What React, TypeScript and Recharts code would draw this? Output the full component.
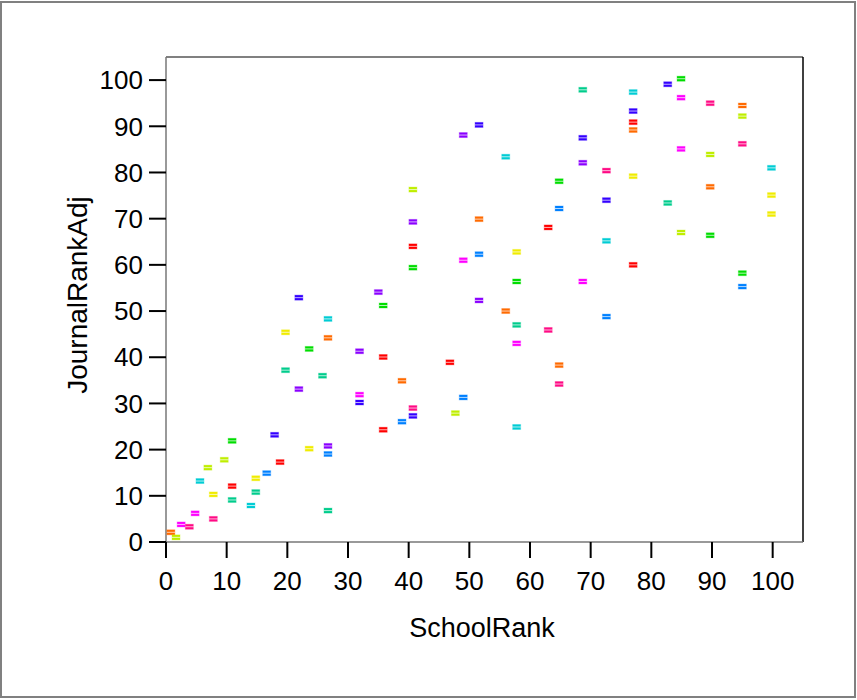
import React from 'react';
import { ScatterChart, Scatter, XAxis, YAxis, ReferenceLine, Label } from 'recharts';

const xTicks = [0, 10, 20, 30, 40, 50, 60, 70, 80, 90, 100];
const yTicks = [0, 10, 20, 30, 40, 50, 60, 70, 80, 90, 100];

const redPts = [
  { x: 10.9, y: 12.1 }, { x: 18.8, y: 17.3 }, { x: 40.7, y: 64.0 }, { x: 63.0, y: 68.1 },
  { x: 35.8, y: 40.05 }, { x: 46.8, y: 38.9 }, { x: 35.8, y: 24.3 }, { x: 77.0, y: 90.9 }, { x: 77.0, y: 60.0 },
];
const orangePts = [
  { x: 0.8, y: 2.1 }, { x: 26.7, y: 44.2 }, { x: 51.6, y: 69.9 }, { x: 56.0, y: 50.0 },
  { x: 38.9, y: 34.9 }, { x: 77.0, y: 89.2 }, { x: 95.0, y: 94.5 }, { x: 89.7, y: 76.9 }, { x: 64.8, y: 38.3 },
];
const yellowPts = [
  { x: 7.8, y: 10.3 }, { x: 14.8, y: 13.8 }, { x: 23.6, y: 20.2 }, { x: 19.7, y: 45.4 },
  { x: 57.8, y: 62.8 }, { x: 77.0, y: 79.2 }, { x: 99.8, y: 75.1 }, { x: 99.8, y: 71.0 },
];
const limePts = [
  { x: 1.65, y: 1.0 }, { x: 6.9, y: 16.1 }, { x: 9.6, y: 17.8 }, { x: 40.7, y: 76.3 },
  { x: 47.7, y: 27.9 }, { x: 95.0, y: 92.2 }, { x: 89.7, y: 83.9 }, { x: 84.9, y: 67.0 },
];
const greenPts = [
  { x: 10.9, y: 21.9 }, { x: 23.6, y: 41.8 }, { x: 40.7, y: 59.4 }, { x: 57.8, y: 56.4 },
  { x: 35.8, y: 51.2 }, { x: 84.9, y: 100.3 }, { x: 64.8, y: 78.1 }, { x: 89.7, y: 66.4 }, { x: 95.0, y: 58.2 },
];
const tealPts = [
  { x: 10.9, y: 9.1 }, { x: 14.8, y: 10.8 }, { x: 26.7, y: 6.8 }, { x: 19.7, y: 37.2 },
  { x: 25.8, y: 36.0 }, { x: 57.8, y: 47.0 }, { x: 68.7, y: 97.9 }, { x: 82.7, y: 73.4 },
];
const cyanPts = [
  { x: 5.6, y: 13.2 }, { x: 14.0, y: 7.9 }, { x: 26.7, y: 48.3 }, { x: 56.0, y: 83.4 },
  { x: 57.8, y: 24.9 }, { x: 77.0, y: 97.4 }, { x: 99.8, y: 81.0 }, { x: 72.6, y: 65.2 },
];
const bluePts = [
  { x: 16.6, y: 14.9 }, { x: 26.7, y: 19.05 }, { x: 51.6, y: 62.3 }, { x: 49.0, y: 31.3 },
  { x: 38.9, y: 26.05 }, { x: 64.8, y: 72.2 }, { x: 95.0, y: 55.3 }, { x: 72.6, y: 48.8 },
];
const indigoPts = [
  { x: 17.9, y: 23.2 }, { x: 21.9, y: 52.9 }, { x: 31.9, y: 30.2 }, { x: 40.7, y: 27.3 },
  { x: 51.6, y: 90.3 }, { x: 82.7, y: 99.1 }, { x: 77.0, y: 93.3 }, { x: 68.7, y: 87.5 }, { x: 72.6, y: 74.0 },
];
const violetPts = [
  { x: 26.7, y: 20.8 }, { x: 21.9, y: 33.1 }, { x: 40.7, y: 69.3 }, { x: 35.0, y: 54.1 },
  { x: 51.6, y: 52.3 }, { x: 31.9, y: 41.3 }, { x: 68.7, y: 82.1 }, { x: 49.0, y: 88.1 },
];
const magentaPts = [
  { x: 2.5, y: 3.8 }, { x: 4.8, y: 6.2 }, { x: 49.0, y: 61.0 }, { x: 57.8, y: 43.0 },
  { x: 31.9, y: 31.9 }, { x: 84.9, y: 96.2 }, { x: 84.9, y: 85.1 }, { x: 68.7, y: 56.4 },
];
const pinkPts = [
  { x: 3.85, y: 3.3 }, { x: 7.8, y: 5.0 }, { x: 63.0, y: 45.9 }, { x: 40.7, y: 29.0 },
  { x: 89.7, y: 95.0 }, { x: 95.0, y: 86.2 }, { x: 72.6, y: 80.4 }, { x: 64.8, y: 34.2 },
];

const seriesList = [
  { name: 'red', data: redPts, color: '#ff0000' },
  { name: 'orange', data: orangePts, color: '#ff6a00' },
  { name: 'yellow', data: yellowPts, color: '#f0ec00' },
  { name: 'lime', data: limePts, color: '#bfee00' },
  { name: 'green', data: greenPts, color: '#00dd00' },
  { name: 'teal', data: tealPts, color: '#00cc8c' },
  { name: 'cyan', data: cyanPts, color: '#00ccd4' },
  { name: 'blue', data: bluePts, color: '#0080ff' },
  { name: 'indigo', data: indigoPts, color: '#3300ff' },
  { name: 'violet', data: violetPts, color: '#8a00ff' },
  { name: 'magenta', data: magentaPts, color: '#ff00ff' },
  { name: 'pink', data: pinkPts, color: '#ff0a84' },
];

const FONT = '"Liberation Sans", Arial, Helvetica, sans-serif';

const Marker = (props: any) => {
  const { cx, cy, color } = props;
  if (cx == null || cy == null) return null;
  return (
    <g>
      <rect x={cx - 4.5} y={cy - 3} width={9} height={6} fill={color} fillOpacity={0.3} />
      <rect x={cx - 4} y={cy - 2.5} width={8} height={2} fill={color} />
      <rect x={cx - 4} y={cy + 0.5} width={8} height={2} fill={color} />
    </g>
  );
};

const XLabel = () => (
  <text x={482} y={637} textAnchor="middle" fontSize={27} fontFamily={FONT} fill="#000">
    SchoolRank
  </text>
);

const YLabel = () => (
  <text
    x={87}
    y={295}
    transform="rotate(-90 87 295)"
    textAnchor="middle"
    fontSize={28}
    fontFamily={FONT}
    fill="#000"
  >
    JournalRankAdj
  </text>
);

export default function App() {
  return (
    <div style={{ position: 'absolute', left: 0, top: 0, width: 857, height: 700, background: '#fff' }}>
      <div
        style={{
          position: 'absolute',
          left: 0,
          top: 1,
          width: 856,
          height: 697,
          border: '2px solid #808080',
          boxSizing: 'border-box',
        }}
      />
      <div style={{ position: 'absolute', left: 0, top: 0 }}>
        <ScatterChart width={857} height={700} margin={{ top: 57, right: 54, left: 0, bottom: 0 }}>
          <XAxis
            type="number"
            dataKey="x"
            domain={[0, 105]}
            ticks={xTicks}
            height={158}
            tickSize={16}
            tickMargin={14}
            axisLine={{ stroke: '#777', strokeWidth: 1.5 }}
            tickLine={{ stroke: '#000', strokeWidth: 2 }}
            tick={{ fontSize: 26, fontFamily: FONT, fill: '#000' }}
            allowDataOverflow
          >
            <Label content={<XLabel />} />
          </XAxis>
          <YAxis
            type="number"
            dataKey="y"
            domain={[0, 105]}
            ticks={yTicks}
            width={166}
            tickSize={17}
            tickMargin={6}
            axisLine={{ stroke: '#777', strokeWidth: 1.5 }}
            tickLine={{ stroke: '#000', strokeWidth: 2 }}
            tick={{ fontSize: 26, fontFamily: FONT, fill: '#000' }}
            allowDataOverflow
          >
            <Label content={<YLabel />} />
          </YAxis>
          <ReferenceLine y={105} stroke="#808080" strokeWidth={2} />
          <ReferenceLine x={105} stroke="#000" strokeWidth={1.5} />
          {seriesList.map((s) => (
            <Scatter
              key={s.name}
              name={s.name}
              data={s.data}
              isAnimationActive={false}
              shape={(p: any) => <Marker {...p} color={s.color} />}
            />
          ))}
        </ScatterChart>
      </div>
    </div>
  );
}
